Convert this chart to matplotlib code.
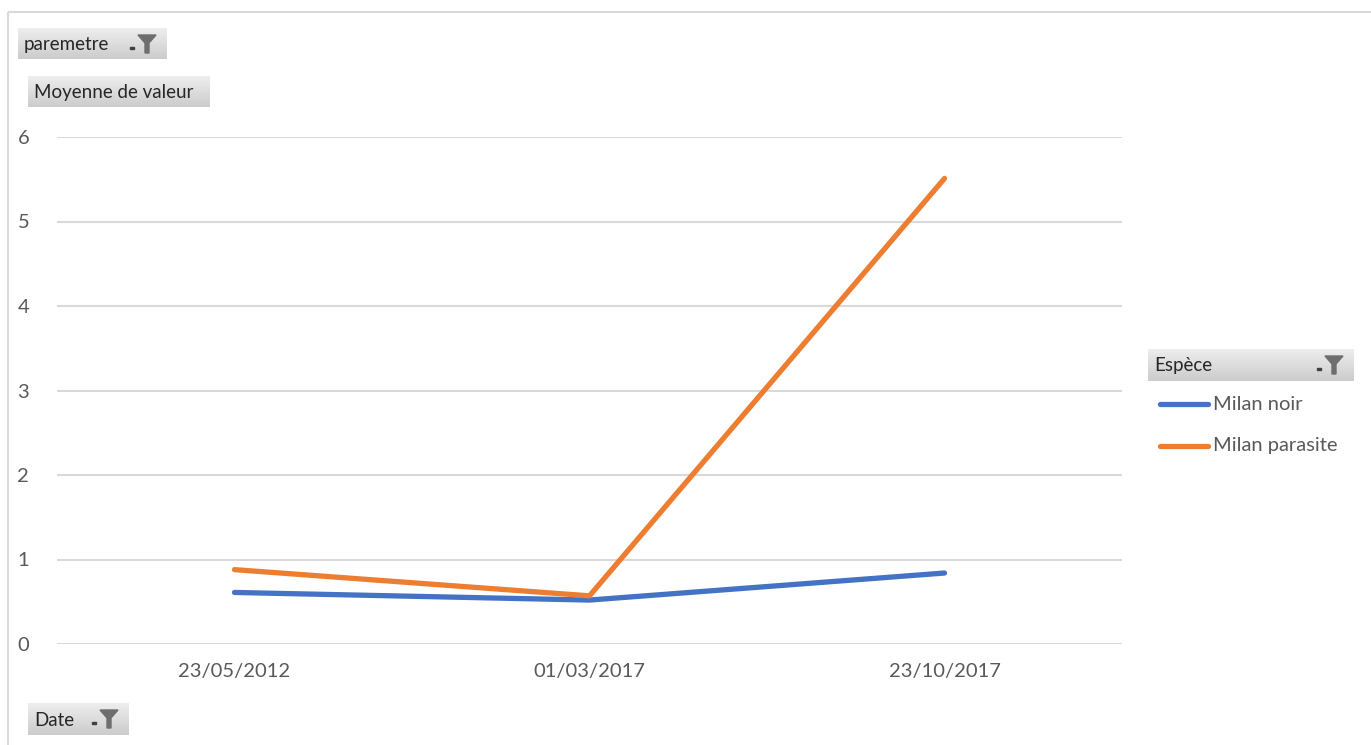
import matplotlib
matplotlib.use('Agg')
import matplotlib.pyplot as plt
import numpy as np
from matplotlib.patches import Rectangle, Polygon

plt.rcParams['font.family'] = ['Lato', 'DejaVu Sans']

dates = ['23/05/2012', '01/03/2017', '23/10/2017']
milan_noir = [0.61, 0.52, 0.84]
milan_parasite = [0.88, 0.57, 5.51]
series_names = ['Milan noir', 'Milan parasite']
colors = ['#4472C4', '#ED7D31']
txt = '#595959'

W, H = 1371, 745
fig = plt.figure(figsize=(W / 100, H / 100), dpi=100)


def px(x0, y0, w, h):
    # pixel box (top-left origin) -> figure fraction
    return [x0 / W, 1 - (y0 + h) / H, w / W, h / H]


# chart frame
frame = fig.add_axes([0, 0, 1, 1], zorder=-5)
frame.set_xlim(0, W); frame.set_ylim(H, 0); frame.axis('off')
frame.add_patch(Rectangle((8, 12), W, H, fill=False, ec='#d9d9d9', lw=1.5))

ax = fig.add_axes(px(57, 137, 1065, 507))
x = np.arange(len(dates))
ax.plot(x, milan_noir, color=colors[0], lw=3.8, solid_capstyle='round', zorder=3)
ax.plot(x, milan_parasite, color=colors[1], lw=3.8, solid_capstyle='round', zorder=3)
ax.set_xlim(-0.5, len(dates) - 0.5)
ax.set_ylim(0, 6)
ax.set_yticks(range(0, 7))
ax.set_xticks(x)
ax.set_xticklabels(dates)
ax.grid(axis='y', color='#d9d9d9', lw=1.5)
for s in ax.spines.values():
    s.set_visible(False)
ax.tick_params(length=0, labelsize=14.5, colors=txt)
ax.tick_params(axis='y', pad=20)
ax.tick_params(axis='x', pad=14)


def button(x0, y0, w, h, label, funnel=True, fs=13.5):
    b = fig.add_axes(px(x0, y0, w, h), zorder=5)
    grad = np.linspace(0.93, 0.80, 50).reshape(-1, 1)
    b.imshow(np.repeat(grad, 2, axis=1), cmap='gray', vmin=0, vmax=1,
             aspect='auto', extent=[0, w, h, 0])
    b.set_xlim(0, w); b.set_ylim(h, 0); b.axis('off')
    b.text(6, h / 2 + 1, label, va='center', ha='left', fontsize=fs, color='#262626')
    if funnel:
        fx = w - 20
        b.add_patch(Polygon([[fx - 9, 7], [fx + 9, 7], [fx + 2, 15], [fx + 2, 25],
                             [fx - 2, 25], [fx - 2, 15]], closed=True, color='#6e6e6e'))
        b.add_patch(Rectangle((fx - 17, 19), 4, 2, color='#404040'))


button(18, 28, 149, 31, 'paremetre')
button(28, 76, 181, 31, 'Moyenne de valeur', funnel=False)
button(28, 703, 101, 32, 'Date')
button(1148, 349, 206, 32, 'Espèce')

# legend entries
for i, (name, c) in enumerate(zip(series_names, colors)):
    yy = 404 + i * 42
    frame.plot([1160, 1208], [yy, yy], color=c, lw=3.8, solid_capstyle='round')
    frame.text(1213, yy, name, va='center', ha='left', fontsize=14.5, color=txt)

fig.savefig('out.png', dpi=100)
